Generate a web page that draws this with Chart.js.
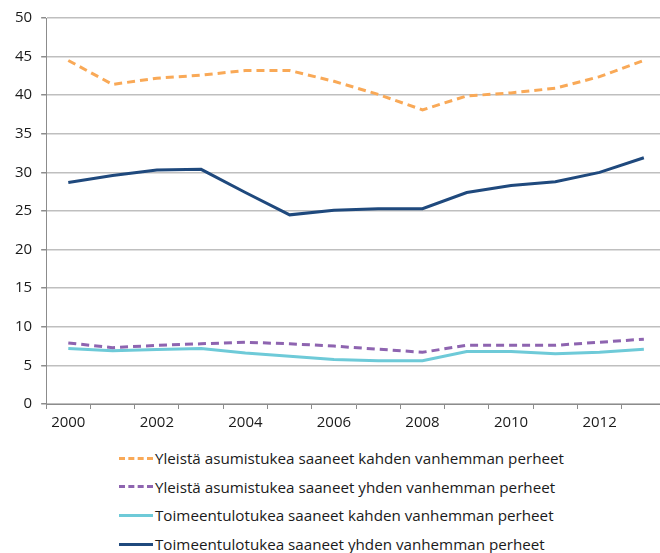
<!DOCTYPE html>
<html>
<head>
<meta charset="utf-8">
<script src="https://cdn.jsdelivr.net/npm/chart.js@4/dist/chart.umd.min.js"></script>
<style>
    html, body {
        margin: 0;
        padding: 0;
        background: #fff;
        overflow: hidden;
        width: 660px;
        height: 553px;
        font-family: "Open Sans", sans-serif;
    }
    #wrap {
        position: absolute;
        left: 0;
        top: 0;
        width: 666px;
        height: 437px;
    }
    #legend {
        position: absolute;
        left: 119px;
        top: 444px;
    }
    .legend-row {
        height: 28.6px;
        display: flex;
        align-items: center;
        font-size: 15.2px;
        color: #1a1a1a;
        white-space: nowrap;
    }
    .legend-line {
        width: 34px;
        height: 0;
        margin-right: 2px;
    }
</style>
</head>
<body>
<div id="wrap"><canvas id="myChart"></canvas></div>
<div id="legend"></div>

<script>
// vuodet ja sarjat
const years = ["2000", "2001", "2002", "2003", "2004", "2005", "2006",
               "2007", "2008", "2009", "2010", "2011", "2012", "2013"];

const seriesNames = [
    "Yleistä asumistukea saaneet kahden vanhemman perheet",
    "Yleistä asumistukea saaneet yhden vanhemman perheet",
    "Toimeentulotukea saaneet kahden vanhemman perheet",
    "Toimeentulotukea saaneet yhden vanhemman perheet"
];

const asumistukiKahden = [44.5, 41.4, 42.2, 42.6, 43.2, 43.2, 41.8, 40.1, 38.1, 39.9, 40.3, 40.9, 42.4, 44.5];
const asumistukiYhden = [7.9, 7.3, 7.6, 7.8, 8.0, 7.8, 7.5, 7.1, 6.7, 7.6, 7.6, 7.6, 8.0, 8.4];
const toimeentuloKahden = [7.2, 6.9, 7.05, 7.2, 6.6, 6.2, 5.75, 5.6, 5.6, 6.8, 6.8, 6.5, 6.7, 7.1];
const toimeentuloYhden = [28.7, 29.6, 30.3, 30.4, 27.4, 24.5, 25.1, 25.3, 25.3, 27.4, 28.3, 28.8, 30.0, 31.9];

const yTicks = [0, 5, 10, 15, 20, 25, 30, 35, 40, 45, 50];

const colors = ["#F9A957", "#8E64B0", "#6ECAD8", "#1F497D"];
const dashes = [[8, 5], [8, 5], [], []];

function makeDataset(i, values) {
    return {
        label: seriesNames[i],
        data: values,
        borderColor: colors[i],
        backgroundColor: colors[i],
        borderWidth: 3,
        borderDash: dashes[i],
        borderCapStyle: 'butt',
        pointRadius: 0,
        tension: 0,
        fill: false
    };
}

const tickFont = { family: "Open Sans", size: 15 };

const ctx = document.getElementById("myChart").getContext("2d");
window.currentChart = new Chart(ctx, {
    type: 'line',
    data: {
        labels: years,
        datasets: [
            makeDataset(0, asumistukiKahden),
            makeDataset(1, asumistukiYhden),
            makeDataset(2, toimeentuloKahden),
            makeDataset(3, toimeentuloYhden)
        ]
    },
    options: {
        responsive: true,
        maintainAspectRatio: false,
        animation: false,
        layout: {
            padding: { top: 14, left: 6, right: 0, bottom: 0 }
        },
        plugins: {
            legend: { display: false },
            tooltip: { enabled: false }
        },
        scales: {
            x: {
                offset: true,
                border: { color: '#8c8c8c', width: 1 },
                grid: {
                    offset: true,
                    drawOnChartArea: false,
                    drawTicks: true,
                    tickLength: 5,
                    color: '#8c8c8c'
                },
                ticks: {
                    autoSkip: false,
                    maxRotation: 0,
                    padding: 5,
                    color: '#1a1a1a',
                    font: tickFont,
                    callback: function(value, index) {
                        return index % 2 === 0 ? years[index] : '';
                    }
                }
            },
            y: {
                min: 0,
                max: 50,
                afterBuildTicks: function(scale) {
                    scale.ticks = yTicks.map(v => ({ value: v }));
                },
                border: { color: '#8c8c8c', width: 1 },
                grid: {
                    color: '#bfbfbf',
                    lineWidth: 1.5,
                    tickLength: 5,
                    tickColor: '#8c8c8c'
                },
                ticks: {
                    padding: 9,
                    color: '#1a1a1a',
                    font: tickFont
                }
            }
        }
    }
});

// selite sarjojen pohjalta
function buildLegend(chart) {
    const box = document.getElementById("legend");
    chart.data.datasets.forEach(ds => {
        const row = document.createElement("div");
        row.className = "legend-row";
        const line = document.createElement("span");
        line.className = "legend-line";
        line.style.borderTop = "3px " + (ds.borderDash.length ? "dashed " : "solid ") + ds.borderColor;
        const text = document.createElement("span");
        text.textContent = ds.label;
        row.appendChild(line);
        row.appendChild(text);
        box.appendChild(row);
    });
}

buildLegend(window.currentChart);
</script>
</body>
</html>
